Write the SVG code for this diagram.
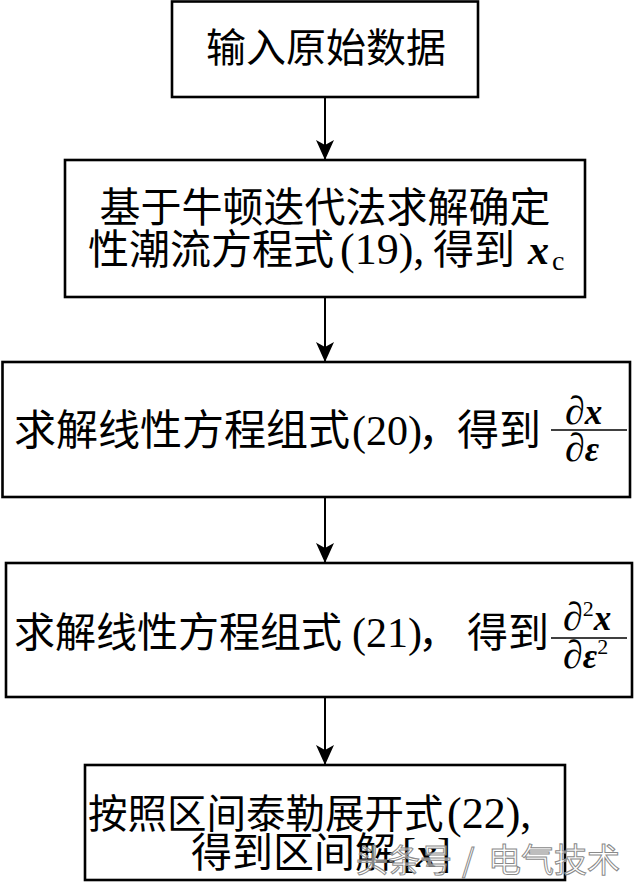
<svg xmlns="http://www.w3.org/2000/svg" width="640" height="886" viewBox="0 0 640 886">
<style>
.box{fill:#fff;stroke:#000;stroke-width:2.6}
.t{font-family:"Liberation Serif","Noto Sans CJK SC",serif;fill:#000}
.m{font-family:"Liberation Serif","DejaVu Serif",serif;fill:#000}
.d{font-family:"Liberation Serif","DejaVu Serif",serif;font-size:40px}
.bi{font-weight:bold;font-style:italic}
.con{stroke:#000;stroke-width:2;fill:none}
.frac{stroke:#000;stroke-width:1.6}
.wm{font-family:"Noto Sans CJK SC",sans-serif;fill:#fff;fill-opacity:0.55;stroke:#8a8a8a;stroke-width:1}
</style>
<defs>
<marker id="ah" viewBox="0 0 20 18" refX="20" refY="9" markerWidth="20" markerHeight="18" markerUnits="userSpaceOnUse" orient="auto">
<path d="M0,0 L20,9 L0,18 L5,9 z" fill="#000"/>
</marker>
</defs>
<rect width="640" height="886" fill="#fff"/>

<g id="connectors">
<line class="con" x1="325" y1="97" x2="325" y2="160" marker-end="url(#ah)"/>
<line class="con" x1="325" y1="297" x2="325" y2="362" marker-end="url(#ah)"/>
<line class="con" x1="325" y1="497" x2="325" y2="563" marker-end="url(#ah)"/>
<line class="con" x1="325" y1="697" x2="325" y2="765" marker-end="url(#ah)"/>
</g>

<g id="node1">
<rect class="box" x="172" y="1.5" width="306" height="95.5"/>
<text class="t" x="326" y="62" font-size="40" text-anchor="middle">输入原始数据</text>
</g>

<g id="node2">
<rect class="box" x="65" y="160" width="520" height="137"/>
<text class="t" x="325" y="222" font-size="41" text-anchor="middle">基于牛顿迭代法求解确定</text>
<text class="t" x="88" y="264" font-size="41">性潮流方程式</text>
<text class="m" x="340" y="264" font-size="44">(19),</text>
<text class="t" x="433" y="264" font-size="41">得到</text>
<text class="m bi" x="528" y="264" font-size="42">x</text>
<text class="m" x="552" y="270" font-size="28">c</text>
</g>

<g id="node3">
<rect class="box" x="2.5" y="362" width="627.5" height="135"/>
<text class="t" x="14" y="445" font-size="42">求解线性方程组式</text>
<text class="m" x="352" y="445" font-size="42">(20)</text>
<text class="t" x="418" y="445" font-size="42">，</text>
<text class="t" x="457" y="445" font-size="42">得到</text>
<line class="frac" x1="551" y1="430" x2="627" y2="430"/>
<text class="m" x="565" y="424" font-size="35"><tspan class="d">∂</tspan><tspan class="bi">x</tspan></text>
<text class="m" x="565" y="461" font-size="35"><tspan class="d">∂</tspan><tspan class="bi">ε</tspan></text>
</g>

<g id="node4">
<rect class="box" x="6" y="563" width="626" height="134"/>
<text class="t" x="14" y="647" font-size="41">求解线性方程组式</text>
<text class="m" x="352" y="647" font-size="42">(21)</text>
<text class="t" x="418" y="647" font-size="41">，</text>
<text class="t" x="467" y="647" font-size="41">得到</text>
<line class="frac" x1="551" y1="638" x2="627" y2="638"/>
<text class="m" x="563" y="630" font-size="35"><tspan class="d">∂</tspan><tspan font-size="22" dy="-14">2</tspan><tspan class="bi" font-size="35" dy="14">x</tspan></text>
<text class="m" x="563" y="668" font-size="35"><tspan class="d">∂</tspan><tspan class="bi">ε</tspan><tspan font-size="22" dy="-14">2</tspan></text>
</g>

<g id="node5">
<rect class="box" x="85" y="765" width="480" height="115"/>
<text class="t" x="88" y="828" font-size="39.5">按照区间泰勒展开式</text>
<text class="m" x="447" y="828" font-size="44">(22),</text>
<text class="t" x="191" y="867" font-size="41">得到区间解</text>
<text class="m" x="402" y="867" font-size="42">[<tspan class="bi">x</tspan>]</text>
</g>

<g id="watermark">
<text class="wm" x="356" y="872" font-size="32">头条号</text>
<text class="wm" x="462" y="872" font-size="32">/</text>
<text class="wm" x="488" y="872" font-size="33">电气技术</text>
</g>
</svg>
